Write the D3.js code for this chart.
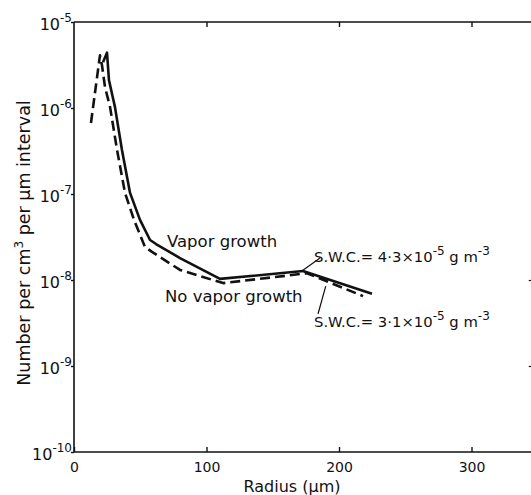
<!DOCTYPE html>
<html>
<head>
<meta charset="utf-8">
<script src="https://cdn.jsdelivr.net/npm/d3@7"></script>
<style>
  body { margin: 0; background: #fff; }
  text { font-family: "DejaVu Sans", sans-serif; fill: #111; }
</style>
</head>
<body>
<div id="chart"></div>
<script>
// radius (um) and number concentration
var vaporRadius = [21.9, 24.9, 26.4, 30.9, 36.2, 42.3, 49.8, 57.4, 61.9, 80, 110.2, 172.8, 224.9];
var vaporValue  = [3.4e-6, 4.4e-6, 2.1e-6, 1.03e-6, 3.25e-7, 1.03e-7, 5.0e-8, 2.92e-8, 2.62e-8, 1.8e-8, 1.03e-8, 1.27e-8, 6.9e-9];

var noVaporRadius = [12.8, 19.6, 21.1, 23.4, 27.2, 32.5, 38.5, 45.3, 53.6, 58.9, 80, 112.5, 157.7, 175.8, 218.1];
var noVaporValue  = [6.7e-7, 4.1e-6, 3.16e-6, 1.75e-6, 1.03e-6, 3.25e-7, 1.03e-7, 5.0e-8, 2.42e-8, 2.12e-8, 1.31e-8, 9.2e-9, 1.11e-8, 1.2e-8, 6.5e-9];

var xTicks = [0, 100, 200, 300];
var yExponents = [-5, -6, -7, -8, -9, -10];

var width = 531, height = 495;
var margin = {top: 22, left: 74, bottom: 43};

var svg = d3.select("#chart").append("svg")
    .attr("width", width)
    .attr("height", height);

var x = d3.scaleLinear().domain([0, 350]).range([margin.left, margin.left + 350 * 1.325]);
var y = d3.scaleLog().domain([1e-10, 1e-5]).range([height - margin.bottom, margin.top]);

// frame
var frame = svg.append("g").attr("stroke", "#111").attr("stroke-width", 1.6).attr("fill", "none");
frame.append("line").attr("x1", x(0)).attr("x2", x(350)).attr("y1", y(1e-10)).attr("y2", y(1e-10));
frame.append("line").attr("x1", x(0)).attr("x2", x(350)).attr("y1", y(1e-5)).attr("y2", y(1e-5));
frame.append("line").attr("x1", x(0)).attr("x2", x(0)).attr("y1", y(1e-10)).attr("y2", y(1e-5));

// bottom axis, ticks pointing in
var xAxis = svg.append("g")
    .attr("transform", "translate(0," + y(1e-10) + ")")
    .call(d3.axisBottom(x).tickValues(xTicks).tickSizeInner(-5).tickSizeOuter(0).tickPadding(10));
xAxis.select(".domain").remove();
xAxis.selectAll(".tick line").attr("stroke", "#111").attr("stroke-width", 1.4);
xAxis.selectAll(".tick text").attr("font-size", 14).attr("font-family", "DejaVu Sans").attr("fill", "#111");

// top ticks
var topAxis = svg.append("g")
    .attr("transform", "translate(0," + y(1e-5) + ")")
    .call(d3.axisTop(x).tickValues([100, 200, 300]).tickSizeInner(-5).tickSizeOuter(0).tickFormat(""));
topAxis.select(".domain").remove();
topAxis.selectAll(".tick line").attr("stroke", "#111").attr("stroke-width", 1.4);

// right side ticks
var rightAxis = svg.append("g")
    .attr("transform", "translate(" + x(350) + ",0)")
    .call(d3.axisRight(y).tickValues([1e-8, 1e-9]).tickSizeInner(-9).tickSizeOuter(0).tickFormat(""));
rightAxis.selectAll(".tick line").attr("stroke", "#111").attr("stroke-width", 1.2);

// left ticks and power-of-ten labels
var yAxis = svg.append("g")
    .attr("transform", "translate(" + x(0) + ",0)")
    .call(d3.axisLeft(y).tickValues(yExponents.map(function(e) { return Math.pow(10, e); }))
        .tickSizeInner(3).tickSizeOuter(0).tickFormat(""));
yAxis.select(".domain").remove();
yAxis.selectAll(".tick line").attr("stroke", "#111").attr("stroke-width", 1.4);

yExponents.forEach(function(e) {
    var t = svg.append("text")
        .attr("x", x(0) - 2)
        .attr("y", y(Math.pow(10, e)) + 8)
        .attr("text-anchor", "end")
        .attr("font-size", 16);
    t.append("tspan").text("10");
    t.append("tspan").attr("font-size", 12).attr("dy", -8).text(e);
});

// axis titles
svg.append("text")
    .attr("x", 292).attr("y", 492)
    .attr("text-anchor", "middle")
    .attr("font-size", 16)
    .text("Radius (\u00b5m)");

var yt = svg.append("text")
    .attr("transform", "translate(30,243) rotate(-90)")
    .attr("text-anchor", "middle")
    .attr("font-size", 17.5);
yt.append("tspan").text("Number per cm");
yt.append("tspan").attr("font-size", 12).attr("dy", -7).text("3");
yt.append("tspan").attr("dy", 7).text(" per \u00b5m interval");

// curves
var line = d3.line()
    .x(function(d) { return x(d[0]); })
    .y(function(d) { return y(d[1]); });

var vapor = vaporRadius.map(function(r, i) { return [r, vaporValue[i]]; });
var noVapor = noVaporRadius.map(function(r, i) { return [r, noVaporValue[i]]; });

svg.append("path")
    .datum(noVapor)
    .attr("fill", "none")
    .attr("stroke", "#111")
    .attr("stroke-width", 2.6)
    .attr("stroke-dasharray", "10,5")
    .attr("stroke-linejoin", "round")
    .attr("d", line);

svg.append("path")
    .datum(vapor)
    .attr("fill", "none")
    .attr("stroke", "#111")
    .attr("stroke-width", 2.6)
    .attr("stroke-linejoin", "round")
    .attr("d", line);

// labels
svg.append("text").attr("x", 167).attr("y", 247).attr("font-size", 16.5).text("Vapor growth");
svg.append("text").attr("x", 165).attr("y", 302).attr("font-size", 16.5).text("No vapor growth");

function swc(xp, yp, value) {
    var t = svg.append("text").attr("x", xp).attr("y", yp).attr("font-size", 14.8);
    t.append("tspan").text("S.W.C.= " + value + "\u00d710");
    t.append("tspan").attr("font-size", 12).attr("dy", -7).text("-5");
    t.append("tspan").attr("dy", 7).text(" g m");
    t.append("tspan").attr("font-size", 12).attr("dy", -7).text("-3");
}
swc(314, 262, "4\u00b73");
swc(314, 327, "3\u00b71");

// leader lines
var leaders = svg.append("g").attr("stroke", "#111").attr("stroke-width", 1.2);
leaders.append("line").attr("x1", x(172)).attr("y1", y(1.27e-8)).attr("x2", 320).attr("y2", 258);
leaders.append("line").attr("x1", x(190)).attr("y1", y(8.5e-9)).attr("x2", 318).attr("y2", 314);
</script>
</body>
</html>
